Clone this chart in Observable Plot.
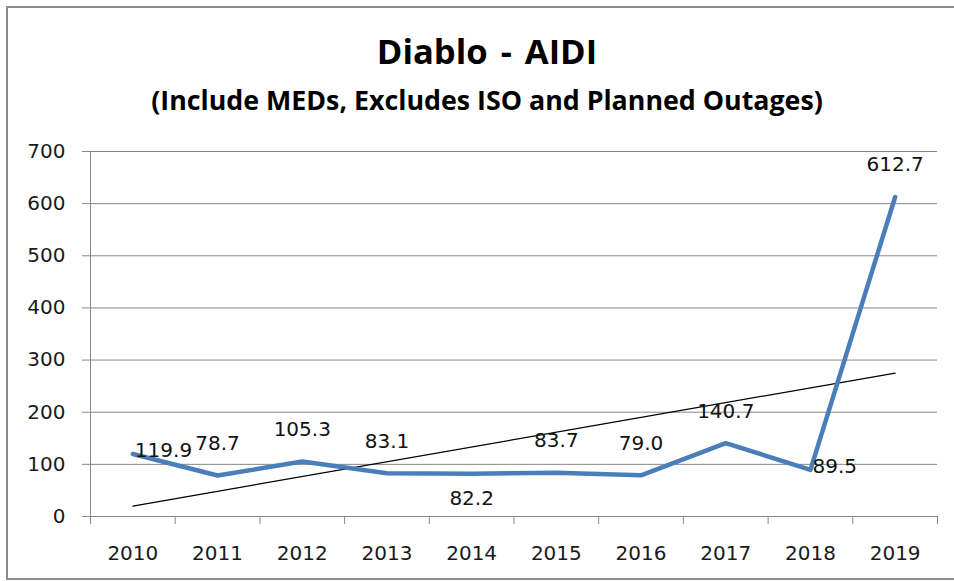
<!DOCTYPE html>
<html>
<head>
<meta charset="utf-8">
<script src="https://cdn.jsdelivr.net/npm/d3@7"></script>
<script src="https://cdn.jsdelivr.net/npm/@observablehq/plot@0.6"></script>
<style>
  body { margin: 0; background: #fff; }
  #wrap { position: relative; width: 954px; height: 581px; overflow: hidden; background: #fff; }
  #frame { position: absolute; left: 6px; top: 6px; width: 960px; height: 574px; border: 2px solid #8c8c8c; box-sizing: border-box; pointer-events: none; }
  .ttl { position: absolute; left: 487px; transform: translate(-50%, -50%); white-space: nowrap; font-family: "Open Sans", Lato, sans-serif; font-weight: bold; color: #000; line-height: 1; }
  #title { top: 51px; font-size: 32px; word-spacing: 4px; }
  #subtitle { top: 100px; font-size: 24px; }
  #chart { position: absolute; left: 0; top: 120px; }
</style>
</head>
<body>
<div id="wrap">
  <div id="title" class="ttl">Diablo - AIDI</div>
  <div id="subtitle" class="ttl">(Include MEDs, Excludes ISO and Planned Outages)</div>
  <div id="chart"></div>
  <div id="frame"></div>
</div>
<script>
const years = ["2010", "2011", "2012", "2013", "2014", "2015", "2016", "2017", "2018", "2019"];
const aidi = [119.9, 78.7, 105.3, 83.1, 82.2, 83.7, 79.0, 140.7, 89.5, 612.7];
const labelPlacement = ["right", "above", "above", "above", "below", "above", "above", "above", "right", "above"];
const yTicks = [0, 100, 200, 300, 400, 500, 600, 700];

const data = years.map((year, i) => ({ i, year, value: aidi[i], place: labelPlacement[i] }));
const idx = years.map((_, i) => i);
const bounds = [...idx.map(i => i - 0.5), years.length - 0.5];

const gray = "#878787";
const font = "DejaVu Sans";
const fmt = d => d.value.toFixed(1);

// fit heading widths to the reference layout
function fitWidth(id, target) {
  const el = document.getElementById(id);
  const fs = parseFloat(getComputedStyle(el).fontSize);
  const w = el.getBoundingClientRect().width;
  el.style.fontSize = (fs * target / w) + "px";
}
fitWidth("title", 221);
fitWidth("subtitle", 672);

const chart = Plot.plot({
  width: 954,
  height: 461,
  marginLeft: 90,
  marginRight: 17,
  marginTop: 31,
  marginBottom: 65,
  style: { fontFamily: font, background: "transparent", color: "#000" },
  x: { type: "linear", domain: [-0.5, years.length - 0.5], axis: null, label: null },
  y: { domain: [0, 700], axis: null, label: null },
  marks: [
    Plot.gridY(yTicks, { stroke: gray, strokeOpacity: 1, strokeWidth: 1 }),
    Plot.ruleX([-0.5], { stroke: gray, strokeWidth: 1 }),
    Plot.axisY(yTicks, { tickSize: 8, tickFormat: () => "", color: gray, label: null }),
    Plot.axisY(yTicks, { tickSize: 0, tickPadding: 25, fontSize: 20, color: "#1a1a1a", fontFamily: font, label: null }),
    Plot.axisX(bounds, { tickSize: 8, tickFormat: () => "", color: gray, label: null }),
    Plot.axisX(idx, { tickSize: 0, tickPadding: 29, fontSize: 20, color: "#1a1a1a", fontFamily: font, tickFormat: i => years[i], label: null }),
    Plot.linearRegressionY(data, { x: "i", y: "value", stroke: "#000", strokeWidth: 1.2, ci: 0 }),
    Plot.line(data, { x: "i", y: "value", stroke: "#4A7EBB", strokeWidth: 4.5, strokeLinejoin: "round", strokeLinecap: "round" }),
    Plot.text(data.filter(d => d.place === "above"), { x: "i", y: "value", text: fmt, dy: -32, fontSize: 20, fill: "#111", fontFamily: font }),
    Plot.text(data.filter(d => d.place === "below"), { x: "i", y: "value", text: fmt, dy: 25, fontSize: 20, fill: "#111", fontFamily: font }),
    Plot.text(data.filter(d => d.place === "right"), { x: "i", y: "value", text: fmt, dx: 2, dy: -3, textAnchor: "start", fontSize: 20, fill: "#111", fontFamily: font })
  ]
});
document.getElementById("chart").appendChild(chart);
</script>
</body>
</html>
